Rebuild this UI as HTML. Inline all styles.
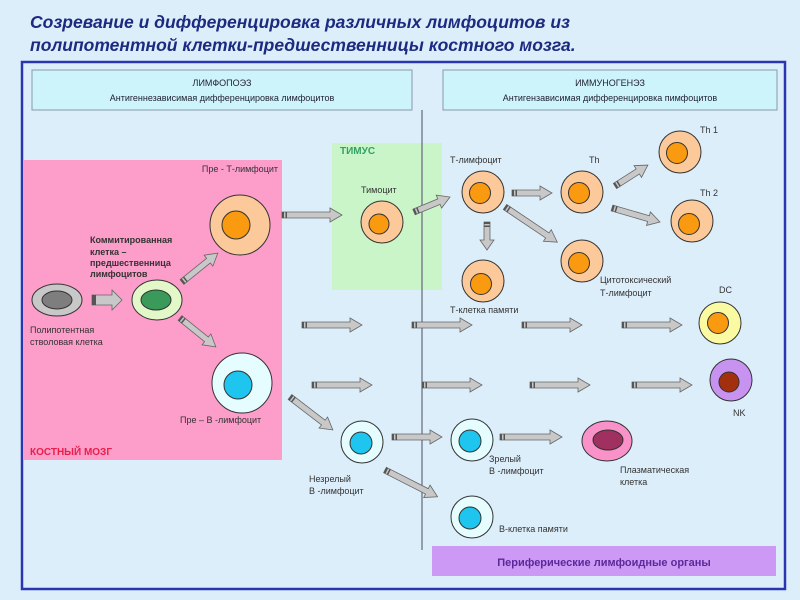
<!DOCTYPE html>
<html><head><meta charset="utf-8"><style>
html,body{margin:0;padding:0;background:#ddeefb;}
svg{display:block;font-family:"Liberation Sans","DejaVu Sans",sans-serif;}
.t{font-size:9px;fill:#333;}
.b{font-weight:bold;}
</style></head><body>
<svg width="800" height="600" viewBox="0 0 800 600" xmlns="http://www.w3.org/2000/svg">
<defs>
<g id="a40"><path d="M0,-3H28V-7L40,0L28,7V3H0Z" fill="#c8c8c8" stroke="#666" stroke-width="0.8"/><rect x="0" y="-3" width="2" height="6" fill="#555"/><rect x="3.5" y="-3" width="1.5" height="6" fill="#555"/></g>
<g id="a46"><path d="M0,-3H34V-7L46,0L34,7V3H0Z" fill="#c8c8c8" stroke="#666" stroke-width="0.8"/><rect x="0" y="-3" width="2" height="6" fill="#555"/><rect x="3.5" y="-3" width="1.5" height="6" fill="#555"/></g>
<g id="a60"><path d="M0,-3H48V-7L60,0L48,7V3H0Z" fill="#c8c8c8" stroke="#666" stroke-width="0.8"/><rect x="0" y="-3" width="2" height="6" fill="#555"/><rect x="3.5" y="-3" width="1.5" height="6" fill="#555"/></g>
<g id="a28"><path d="M0,-3H18V-7L28,0L18,7V3H0Z" fill="#c8c8c8" stroke="#666" stroke-width="0.8"/><rect x="0" y="-3" width="2" height="6" fill="#555"/><rect x="3.5" y="-3" width="1.5" height="6" fill="#555"/></g>
<g id="a39"><path d="M0,-3H27V-7L39,0L27,7V3H0Z" fill="#c8c8c8" stroke="#666" stroke-width="0.8"/><rect x="0" y="-3" width="2" height="6" fill="#555"/><rect x="3.5" y="-3" width="1.5" height="6" fill="#555"/></g>
<g id="a50"><path d="M0,-3H38V-7L50,0L38,7V3H0Z" fill="#c8c8c8" stroke="#666" stroke-width="0.8"/><rect x="0" y="-3" width="2" height="6" fill="#555"/><rect x="3.5" y="-3" width="1.5" height="6" fill="#555"/></g>
<g id="a54"><path d="M0,-3H42V-7L54,0L42,7V3H0Z" fill="#c8c8c8" stroke="#666" stroke-width="0.8"/><rect x="0" y="-3" width="2" height="6" fill="#555"/><rect x="3.5" y="-3" width="1.5" height="6" fill="#555"/></g>
<g id="a59"><path d="M0,-3H47V-7L59,0L47,7V3H0Z" fill="#c8c8c8" stroke="#666" stroke-width="0.8"/><rect x="0" y="-3" width="2" height="6" fill="#555"/><rect x="3.5" y="-3" width="1.5" height="6" fill="#555"/></g>
<g id="a62"><path d="M0,-3H50V-7L62,0L50,7V3H0Z" fill="#c8c8c8" stroke="#666" stroke-width="0.8"/><rect x="0" y="-3" width="2" height="6" fill="#555"/><rect x="3.5" y="-3" width="1.5" height="6" fill="#555"/></g>
<g id="a63"><path d="M0,-3H51V-7L63,0L51,7V3H0Z" fill="#c8c8c8" stroke="#666" stroke-width="0.8"/><rect x="0" y="-3" width="2" height="6" fill="#555"/><rect x="3.5" y="-3" width="1.5" height="6" fill="#555"/></g>
</defs>

<text x="30" y="28" font-size="17.5" font-style="italic" font-weight="bold" fill="#1c2a80">Созревание и дифференцировка различных лимфоцитов из</text>
<text x="30" y="51" font-size="17.5" font-style="italic" font-weight="bold" fill="#1c2a80">полипотентной клетки-предшественницы костного мозга.</text>

<rect x="22" y="62" width="763" height="527" fill="#ddeefb" stroke="#2a35b0" stroke-width="2.5"/>

<rect x="32" y="70" width="380" height="40" fill="#cdf4fb" stroke="#8899aa"/>
<text x="222" y="86" font-size="9" fill="#223" text-anchor="middle">ЛИМФОПОЭЗ</text>
<text x="222" y="101" font-size="9" fill="#223" text-anchor="middle">Антигеннезависимая дифференцировка лимфоцитов</text>
<rect x="443" y="70" width="334" height="40" fill="#cdf4fb" stroke="#8899aa"/>
<text x="610" y="86" font-size="9" fill="#223" text-anchor="middle">ИММУНОГЕНЭЗ</text>
<text x="610" y="101" font-size="9" fill="#223" text-anchor="middle">Антигензависимая дифференцировка пимфоцитов</text>

<rect x="23" y="160" width="259" height="300" fill="#fd9dca"/>
<rect x="332" y="143" width="110" height="147" fill="#c9f5c9"/>
<line x1="422" y1="110" x2="422" y2="550" stroke="#667" stroke-width="1.2"/>

<rect x="432" y="546" width="344" height="30" fill="#cc99f5"/>
<text x="604" y="566" font-size="11" font-weight="bold" fill="#5a2a9a" text-anchor="middle">Периферические лимфоидные органы</text>

<!-- arrows -->
<g>
<path d="M92,295H112V290L122,300L112,310V305H92Z" fill="#c8c8c8" stroke="#666" stroke-width="0.8"/><rect x="92" y="295" width="4" height="10" fill="#555"/>
<use href="#a46" transform="translate(182,282) rotate(-38.9)"/>
<use href="#a46" transform="translate(180,318) rotate(38.9)"/>
<use href="#a60" transform="translate(282,215)"/>
<use href="#a39" transform="translate(414,212) rotate(-22.6)"/>
<use href="#a40" transform="translate(512,193)"/>
<use href="#a28" transform="translate(487,222) rotate(90)"/>
<use href="#a63" transform="translate(505,207) rotate(33.9)"/>
<use href="#a39" transform="translate(615,186) rotate(-32.5)"/>
<use href="#a50" transform="translate(612,208) rotate(16.3)"/>
<use href="#a60" transform="translate(302,325)"/>
<use href="#a60" transform="translate(412,325)"/>
<use href="#a60" transform="translate(522,325)"/>
<use href="#a60" transform="translate(622,325)"/>
<use href="#a60" transform="translate(312,385)"/>
<use href="#a60" transform="translate(422,385)"/>
<use href="#a60" transform="translate(530,385)"/>
<use href="#a60" transform="translate(632,385)"/>
<use href="#a54" transform="translate(290,397) rotate(37.5)"/>
<use href="#a50" transform="translate(392,437)"/>
<use href="#a59" transform="translate(385,470) rotate(27)"/>
<use href="#a62" transform="translate(500,437)"/>
</g>

<!-- cells -->
<g stroke="#333" stroke-width="1">
<ellipse cx="57" cy="300" rx="25" ry="16" fill="#c8c8c8"/><ellipse cx="57" cy="300" rx="15" ry="9" fill="#7e7e7e"/>
<ellipse cx="157" cy="300" rx="25" ry="20" fill="#e2f8c8"/><ellipse cx="156" cy="300" rx="15" ry="10" fill="#3a9a5a"/>
<circle cx="240" cy="225" r="30" fill="#fcc99b"/><circle cx="236" cy="225" r="14" fill="#f99a10"/>
<circle cx="242" cy="383" r="30" fill="#e6fdff"/><circle cx="238" cy="385" r="14" fill="#1ec5ef"/>
<circle cx="382" cy="222" r="21" fill="#fcc99b"/><circle cx="379" cy="224" r="10" fill="#f99a10"/>
<circle cx="483" cy="192" r="21" fill="#fcc99b"/><circle cx="480" cy="193" r="10.5" fill="#f99a10"/>
<circle cx="582" cy="192" r="21" fill="#fcc99b"/><circle cx="579" cy="193" r="10.5" fill="#f99a10"/>
<circle cx="680" cy="152" r="21" fill="#fcc99b"/><circle cx="677" cy="153" r="10.5" fill="#f99a10"/>
<circle cx="692" cy="221" r="21" fill="#fcc99b"/><circle cx="689" cy="224" r="10.5" fill="#f99a10"/>
<circle cx="582" cy="261" r="21" fill="#fcc99b"/><circle cx="579" cy="263" r="10.5" fill="#f99a10"/>
<circle cx="483" cy="281" r="21" fill="#fcc99b"/><circle cx="481" cy="284" r="10.5" fill="#f99a10"/>
<circle cx="720" cy="323" r="21" fill="#fafaa2"/><circle cx="718" cy="323" r="10.5" fill="#f99a10"/>
<circle cx="731" cy="380" r="21" fill="#c892f0"/><circle cx="729" cy="382" r="10" fill="#a2300e"/>
<circle cx="362" cy="442" r="21" fill="#e6fdff"/><circle cx="361" cy="443" r="11" fill="#1ec5ef"/>
<circle cx="472" cy="440" r="21" fill="#e6fdff"/><circle cx="470" cy="441" r="11" fill="#1ec5ef"/>
<ellipse cx="607" cy="441" rx="25" ry="20" fill="#f892c8"/><ellipse cx="608" cy="440" rx="15" ry="10" fill="#a03060"/>
<circle cx="472" cy="517" r="21" fill="#e6fdff"/><circle cx="470" cy="518" r="11" fill="#1ec5ef"/>
</g>

<!-- labels -->
<text class="t" x="278" y="172" text-anchor="end">Пре - Т-лимфоцит</text>
<text class="t b" x="90" y="243">Коммитированная</text>
<text class="t b" x="90" y="255">клетка –</text>
<text class="t b" x="90" y="266">предшественница</text>
<text class="t b" x="90" y="277">лимфоцитов</text>
<text class="t" x="30" y="333">Полипотентная</text>
<text class="t" x="30" y="345">стволовая клетка</text>
<text class="t" x="180" y="423">Пре – В -лимфоцит</text>
<text x="30" y="455" font-size="10" font-weight="bold" fill="#e8204a">КОСТНЫЙ МОЗГ</text>
<text x="340" y="154" font-size="10" font-weight="bold" fill="#33a066">ТИМУС</text>
<text class="t" x="361" y="193" font-size="8">Тимоцит</text>
<text class="t" x="450" y="163">Т-лимфоцит</text>
<text class="t" x="589" y="163">Th</text>
<text class="t" x="700" y="133">Th 1</text>
<text class="t" x="700" y="196">Th 2</text>
<text class="t" x="600" y="283">Цитотоксический</text>
<text class="t" x="600" y="296">Т-лимфоцит</text>
<text class="t" x="450" y="313">Т-клетка памяти</text>
<text class="t" x="719" y="293">DC</text>
<text class="t" x="733" y="416">NK</text>
<text class="t" x="309" y="482">Незрелый</text>
<text class="t" x="309" y="494">В -лимфоцит</text>
<text class="t" x="489" y="462">Зрелый</text>
<text class="t" x="489" y="474">В -лимфоцит</text>
<text class="t" x="620" y="473">Плазматическая</text>
<text class="t" x="620" y="485">клетка</text>
<text class="t" x="499" y="532">В-клетка памяти</text>
</svg>
</body></html>
